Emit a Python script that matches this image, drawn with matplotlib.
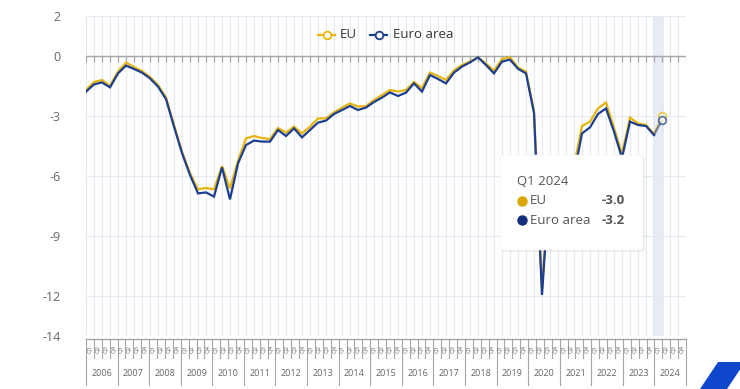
import numpy as np
import matplotlib.pyplot as plt
from matplotlib.lines import Line2D
from matplotlib.patches import FancyBboxPatch, Polygon

plt.rcParams['font.family'] = ['Open Sans', 'DejaVu Sans']
plt.rcParams['axes.unicode_minus'] = False

# --- datos: déficit trimestral (% PIB), 2006 Q1 .. 2024 Q1 ---
anios = [str(a) for a in range(2006, 2025)]
trimestres = ['Q1', 'Q2', 'Q3', 'Q4']

eu = [-1.7, -1.3, -1.2, -1.5, -0.78, -0.33, -0.55, -0.75, -1.05, -1.45,
      -2.07, -3.45, -4.78, -5.85, -6.67, -6.6, -6.67, -5.5, -6.62, -5.25,
      -4.12, -4.0, -4.1, -4.15, -3.6, -3.83, -3.53, -3.87, -3.53, -3.12,
      -3.12, -2.82, -2.58, -2.37, -2.53, -2.5, -2.2, -1.95, -1.7, -1.78,
      -1.7, -1.3, -1.6, -0.83, -1.0, -1.2, -0.72, -0.45, -0.28, -0.07,
      -0.38, -0.73, -0.15, -0.07, -0.57, -0.78, -2.75, -11.7, -5.7, -6.3,
      -7.0, -5.5, -3.5, -3.28, -2.62, -2.32, -3.6, -4.9, -3.08, -3.37,
      -3.45, -3.9, -3.0]

euro_area = [-1.78, -1.42, -1.32, -1.57, -0.87, -0.48, -0.65, -0.83, -1.12, -1.53,
             -2.15, -3.53, -4.85, -5.95, -6.87, -6.82, -7.03, -5.57, -7.17, -5.37,
             -4.45, -4.23, -4.28, -4.28, -3.7, -4.0, -3.62, -4.07, -3.7, -3.33,
             -3.23, -2.9, -2.7, -2.5, -2.7, -2.58, -2.3, -2.08, -1.82, -2.0,
             -1.83, -1.37, -1.78, -0.95, -1.15, -1.37, -0.83, -0.53, -0.32, -0.07,
             -0.45, -0.87, -0.28, -0.18, -0.64, -0.87, -2.85, -11.95, -5.9, -6.6,
             -7.3, -5.9, -3.87, -3.57, -2.9, -2.62, -3.78, -5.1, -3.28, -3.45,
             -3.5, -3.95, -3.2]

y_ticks = [2, 0, -3, -6, -9, -12, -14]

COL_EU = '#E8B40E'
COL_EA = '#1D3F8F'
GRID = '#E4E9F2'

W, H = 740, 389
def fx(px):
    return px / W
def fy(py):
    return 1 - py / H

fig = plt.figure(figsize=(W / 100, H / 100), dpi=100)
ax = fig.add_axes([fx(86), fy(336), 600 / W, 320 / H])

n_cat = len(anios) * 4
x = np.arange(len(eu))

ax.set_xlim(0, n_cat - 1)
ax.set_ylim(-14, 2)
ax.set_yticks(y_ticks)
ax.set_yticklabels([str(v) for v in y_ticks])
ax.tick_params(axis='y', length=0, pad=18, labelsize=9, labelcolor='#666666')
ax.set_xticks([])
for s in ax.spines.values():
    s.set_visible(False)

# cuadrícula
for i in range(n_cat):
    ax.axvline(i, color=GRID, lw=0.8, zorder=0)
for v in y_ticks:
    ax.axhline(v, color=GRID, lw=0.8, zorder=0)

# banda resaltada (Q1 2024)
ax.axvspan(70.9, 72.25, color='#E3E8F3', alpha=0.8, lw=0, zorder=0.5)

# eje en y=0 con marcas
ax.axhline(0, color='#A6A6A6', lw=1.0, zorder=1)
ax.vlines(np.arange(n_cat), -0.3, 0, color='#A6A6A6', lw=0.9, zorder=1)

# series
for serie, col in [(eu, COL_EU), (euro_area, COL_EA)]:
    ax.plot(x[:-1], serie[:-1], color=col, lw=1.6, zorder=3, solid_joinstyle='miter')
    ax.plot(x[-2:], serie[-2:], color=col, lw=1.6, alpha=0.55, zorder=3)
    ax.plot(x[-1], serie[-1], 'o', ms=5.5, mfc='white', mec=col, mew=1.3,
            alpha=0.7, zorder=4)

# leyenda
for xs, col, txt, xt in [(318, COL_EU, 'EU', 340), (370, COL_EA, 'Euro area', 393)]:
    fig.add_artist(Line2D([fx(xs), fx(xs + 17)], [fy(35), fy(35)], color=col, lw=1.6))
    fig.add_artist(Line2D([fx(xs + 8.5)], [fy(35)], marker='o', ms=5.5, mfc='white',
                          mec=col, mew=1.3))
    fig.text(fx(xt), fy(35), txt, fontsize=9.5, color='#333333', va='center', ha='left')

# tooltip
sombra = FancyBboxPatch((fx(502), fy(252)), fx(143), 95 / H,
                        boxstyle='round,pad=0,rounding_size=0.006',
                        transform=fig.transFigure, fc='#000000', alpha=0.06, ec='none',
                        zorder=9)
caja = FancyBboxPatch((fx(500), fy(250)), fx(143), 95 / H,
                      boxstyle='round,pad=0,rounding_size=0.006',
                      transform=fig.transFigure, fc='white', ec='#EEEEEE', lw=0.5,
                      zorder=10)
fig.add_artist(sombra)
fig.add_artist(caja)
fig.text(fx(517), fy(182), 'Q1 2024', fontsize=9.5, color='#555555', va='center', zorder=11)
for yy, col, txt, val in [(201, '#D9A800', 'EU', eu[-1]), (220, '#152F7A', 'Euro area', euro_area[-1])]:
    fig.add_artist(Line2D([fx(522)], [fy(yy)], marker='o', ms=6.5, color=col, mec=col,
                          zorder=11))
    fig.text(fx(530), fy(yy), txt, fontsize=9.5, color='#555555', va='center', zorder=11)
    fig.text(fx(625), fy(yy), f'{val:.1f}', fontsize=9.5, color='#555555', va='center',
             ha='right', fontweight='bold', zorder=11)

# eje inferior agrupado (trimestres / años)
axb = fig.add_axes([0, 0, 1, 1], facecolor='none')
axb.set_xlim(0, W)
axb.set_ylim(H, 0)
axb.axis('off')
axb.plot([86, 686], [339, 339], color='#A6A6A6', lw=1)
paso_q = 600 / n_cat
for k in range(n_cat + 1):
    xq = 86 + k * paso_q
    largo = 385 if k % 4 == 0 else 358
    axb.plot([xq, xq], [339, largo], color='#A6A6A6', lw=0.8)
    if k < n_cat:
        axb.text(xq + paso_q / 2, 349, trimestres[k % 4], rotation=90, fontsize=4.2,
                 color='#666666', ha='center', va='center')
for j, a in enumerate(anios):
    axb.text(86 + (j + 0.5) * 4 * paso_q, 374, a, fontsize=6.5, color='#666666',
             ha='center', va='center')

# logo (esquina)
axb.add_patch(Polygon([[700, 389], [718, 362], [745, 362], [727, 389]], closed=True,
                      fc='#0E47CB', ec='none'))

fig.savefig('out.png', dpi=100)
